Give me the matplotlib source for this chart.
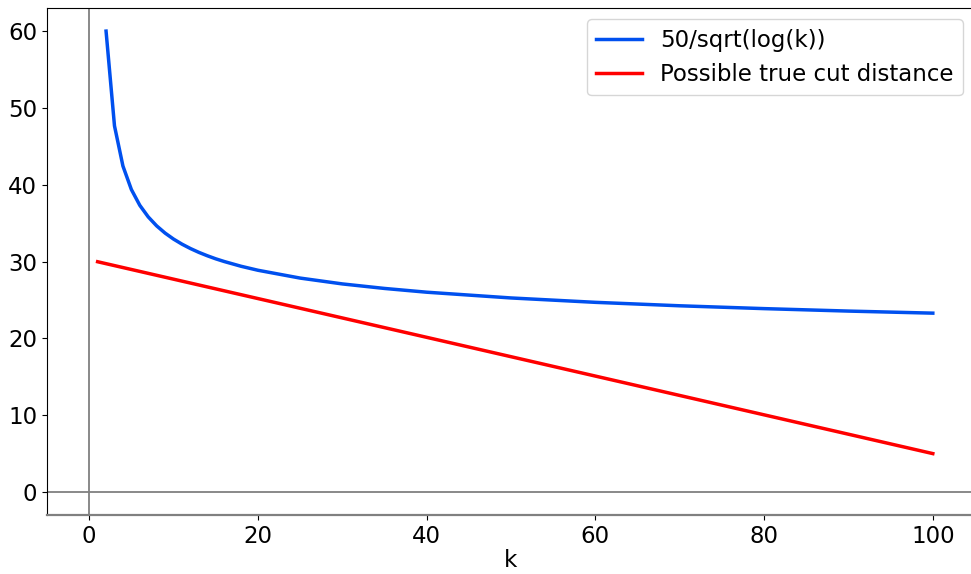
import matplotlib
matplotlib.use("Agg")
import matplotlib.pyplot as plt

k_blue = [2, 3, 4, 5, 6, 7, 8, 9, 10, 11, 12, 13, 14, 15, 16, 18, 20, 25, 30, 35, 40, 50, 60, 70, 80, 90, 100]
v_blue = [60.05, 47.70, 42.47, 39.41, 37.35, 35.84, 34.67, 33.73, 32.95, 32.29, 31.72, 31.22, 30.78, 30.38,
          30.03, 29.41, 28.89, 27.87, 27.11, 26.52, 26.03, 25.28, 24.71, 24.26, 23.89, 23.57, 23.30]
k_red = [1, 100]
v_red = [30.0, 5.0]
labels = ["50/sqrt(log(k))", "Possible true cut distance"]

fig = plt.figure(figsize=(9.71, 5.74), dpi=100)
ax = fig.add_axes([47/971, 1 - 515/574, (975 - 47)/971, (515 - 8)/574])
ax.axvline(0, color="gray", lw=1.3, zorder=1)
ax.axhline(0, color="gray", lw=1.3, zorder=1)
ax.plot(k_blue, v_blue, color="#0050ef", lw=2.5, label=labels[0])
ax.plot(k_red, v_red, color="#ff0000", lw=2.5, label=labels[1])
ax.set_xlim(-5, 105)
ax.set_ylim(-3.0, 63.06)
ax.set_xticks([0, 20, 40, 60, 80, 100])
ax.set_yticks([0, 10, 20, 30, 40, 50, 60])
ax.tick_params(labelsize=16.5)
ax.set_xlabel("k", fontsize=16.5, labelpad=1)
ax.spines["right"].set_visible(False)
ax.spines["bottom"].set_color("gray")
ax.spines["bottom"].set_linewidth(1.6)
ax.legend(fontsize=16.5, loc="upper right", bbox_to_anchor=(0.9995, 1.0))
fig.savefig("out.png", dpi=100)
